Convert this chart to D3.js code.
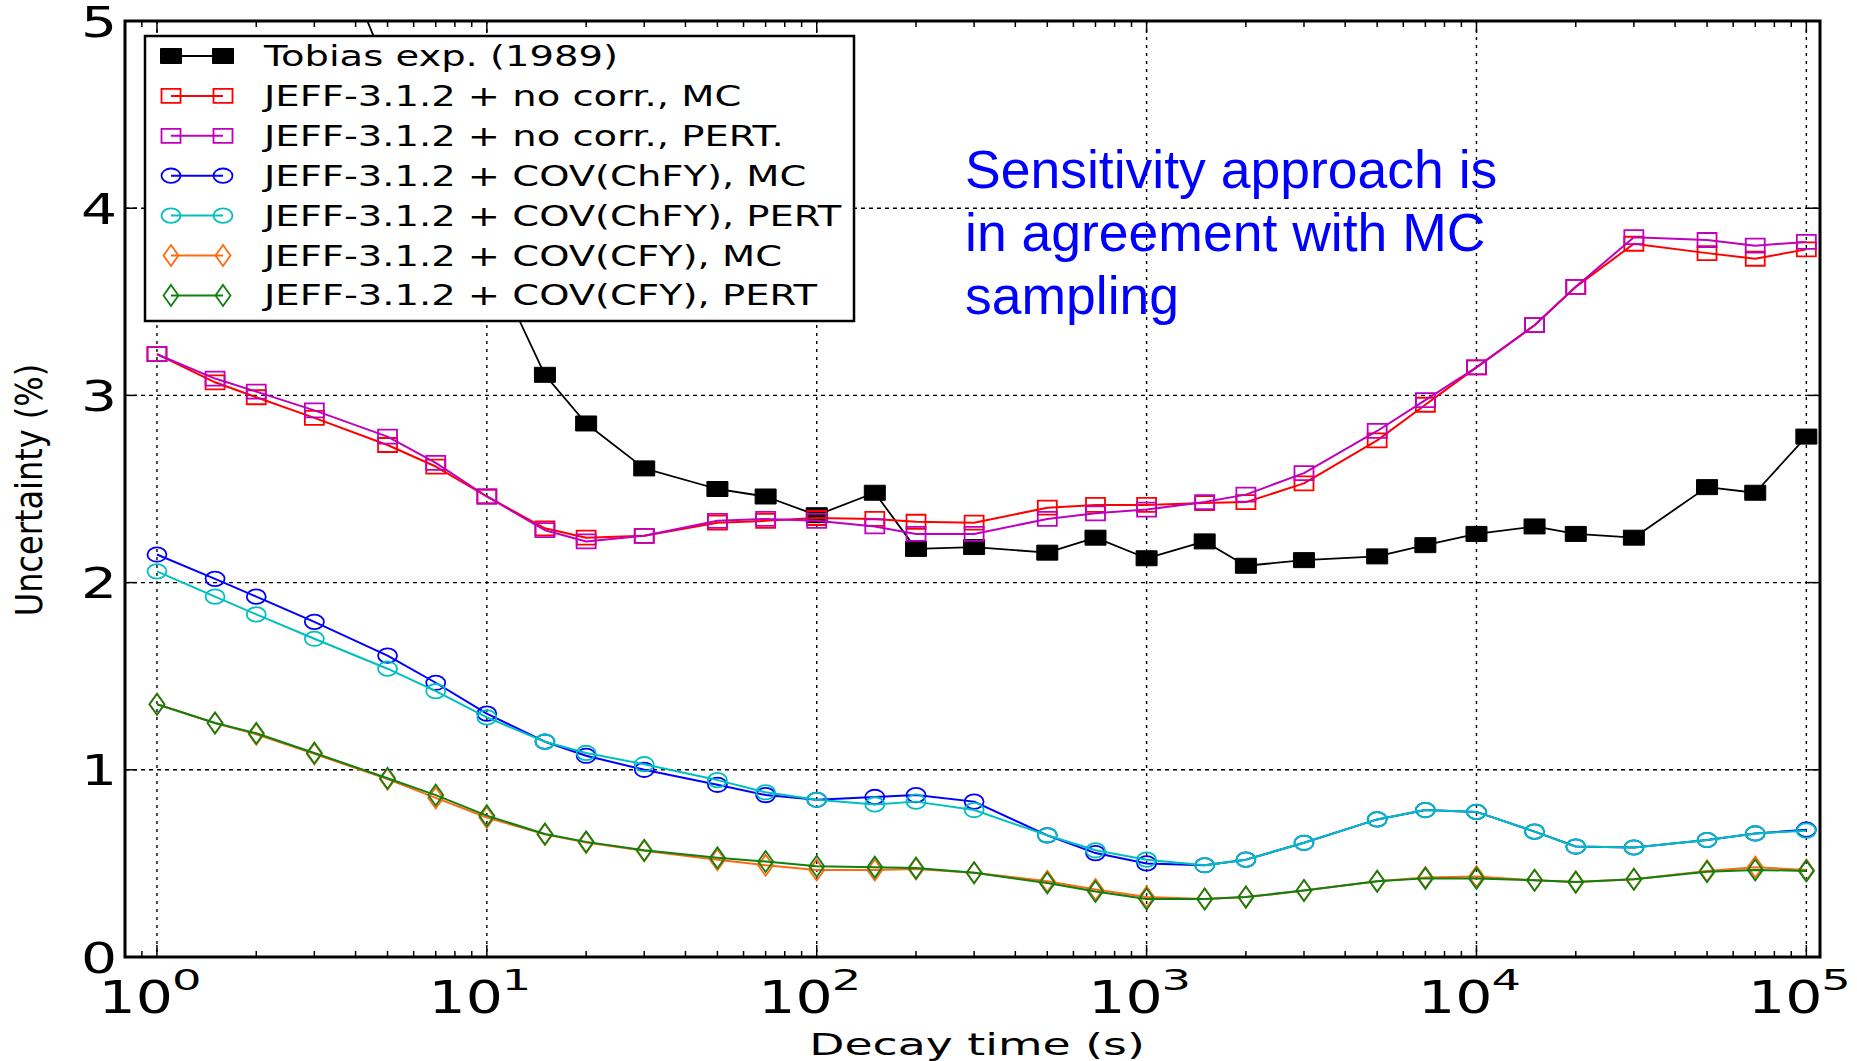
<!DOCTYPE html>
<html>
<head>
<meta charset="utf-8">
<script src="https://cdn.jsdelivr.net/npm/d3@7/dist/d3.min.js"></script>
<style>
  html, body { margin: 0; padding: 0; background: #fff; }
  svg { display: block; }
</style>
</head>
<body>
<svg id="chart" width="1857" height="1061"></svg>
<script>
// decay times (s) shared by every series
var decayTimes = [1, 1.5, 2, 3, 5, 7, 10, 15, 20, 30, 50, 70, 100, 150, 200, 300, 500, 700,
    1000, 1500, 2000, 3000, 5000, 7000, 10000, 15000, 20000, 30000, 50000, 70000, 100000];

// uncertainty (%), null where a series has no point
var tobiasExp = [null, null, null, 5.68, 4.74, 4.3, 3.77, 3.11, 2.85, 2.61, 2.50, 2.46, 2.36,
    2.48, 2.18, 2.19, 2.16, 2.24, 2.13, 2.22, 2.09, 2.12, 2.14, 2.20, 2.26, 2.30, 2.26, 2.24,
    2.51, 2.48, 2.78];
var noCorrMC = [3.22, 3.07, 2.99, 2.88, 2.735, 2.62, 2.46, 2.29, 2.24, 2.25, 2.32, 2.33, 2.345,
    2.34, 2.325, 2.32, 2.40, 2.415, 2.415, 2.425, 2.43, 2.53, 2.76, 2.95, 3.15, 3.375, 3.58,
    3.81, 3.76, 3.73, 3.78];
var noCorrPert = [3.22, 3.09, 3.02, 2.92, 2.78, 2.64, 2.46, 2.28, 2.22, 2.25, 2.33, 2.34, 2.33,
    2.30, 2.26, 2.26, 2.34, 2.37, 2.39, 2.43, 2.47, 2.585, 2.81, 2.975, 3.15, 3.375, 3.58,
    3.845, 3.83, 3.80, 3.82];
var chfyMC = [2.15, 2.02, 1.925, 1.79, 1.61, 1.465, 1.30, 1.15, 1.075, 1.00, 0.92, 0.865, 0.84,
    0.855, 0.865, 0.83, 0.65, 0.555, 0.50, 0.49, 0.52, 0.61, 0.735, 0.785, 0.775, 0.67, 0.59,
    0.585, 0.625, 0.66, 0.68];
var chfyPert = [2.06, 1.925, 1.83, 1.70, 1.54, 1.42, 1.28, 1.15, 1.09, 1.03, 0.945, 0.88, 0.84,
    0.815, 0.83, 0.785, 0.65, 0.57, 0.52, 0.49, 0.52, 0.61, 0.735, 0.785, 0.775, 0.67, 0.59,
    0.585, 0.625, 0.66, 0.675];
var cfyMC = [1.35, 1.25, 1.19, 1.085, 0.95, 0.85, 0.745, 0.655, 0.612, 0.567, 0.52, 0.49, 0.465,
    0.465, 0.47, 0.45, 0.405, 0.36, 0.32, 0.31, 0.32, 0.355, 0.405, 0.425, 0.43, 0.41, 0.40,
    0.415, 0.46, 0.48, 0.465];
var cfyPert = [1.35, 1.25, 1.195, 1.09, 0.955, 0.865, 0.755, 0.657, 0.615, 0.57, 0.53, 0.51, 0.485,
    0.48, 0.475, 0.45, 0.395, 0.35, 0.31, 0.31, 0.32, 0.355, 0.405, 0.42, 0.42, 0.41, 0.40,
    0.415, 0.455, 0.465, 0.46];

var seriesLabels = [
    'Tobias exp. (1989)',
    'JEFF-3.1.2 + no corr., MC',
    'JEFF-3.1.2 + no corr., PERT.',
    'JEFF-3.1.2 + COV(ChFY), MC',
    'JEFF-3.1.2 + COV(ChFY), PERT',
    'JEFF-3.1.2 + COV(CFY), MC',
    'JEFF-3.1.2 + COV(CFY), PERT'
];
var yTickValues = [0, 1, 2, 3, 4, 5];
var xTickExponents = [0, 1, 2, 3, 4, 5];
var xAxisLabel = 'Decay time (s)';
var yAxisLabel = 'Uncertainty (%)';
var noteLines = ['Sensitivity approach is', 'in agreement with MC', 'sampling'];

var plot = { left: 125, right: 1820, top: 21, bottom: 957 };
var mplFont = '"DejaVu Sans", sans-serif';

var series = [
    { values: tobiasExp, color: '#000000', marker: 'filled', width: 1.8 },
    { values: noCorrMC, color: '#ff0000', marker: 'square', width: 2 },
    { values: noCorrPert, color: '#bf00bf', marker: 'square', width: 2 },
    { values: chfyMC, color: '#0000ff', marker: 'circle', width: 2 },
    { values: chfyPert, color: '#00bfbf', marker: 'circle', width: 2 },
    { values: cfyMC, color: '#ff6a10', marker: 'diamond', width: 2 },
    { values: cfyPert, color: '#108010', marker: 'diamond', width: 2 }
].map(function(s, i) {
    s.label = seriesLabels[i];
    s.points = decayTimes.map(function(t, j) {
        return { t: t, v: s.values[j] };
    });
    return s;
});

var x = d3.scaleLog().domain([0.8, 1.1e5]).range([plot.left, plot.right]);
var y = d3.scaleLinear().domain([0, 5]).range([plot.bottom, plot.top]);

var svg = d3.select('#chart');
svg.append('rect').attr('width', 1857).attr('height', 1061).attr('fill', '#fff');

// the source figure is stretched sideways, so text gets a horizontal scale
function stretchedText(parent, str, px, py, size, sx, anchor) {
    return parent.append('text')
        .attr('transform', 'translate(' + px + ',' + py + ') scale(' + sx + ',1)')
        .attr('text-anchor', anchor || 'start')
        .attr('font-family', mplFont)
        .attr('font-size', size)
        .attr('fill', '#000')
        .text(str);
}

function markerPath(type) {
    if (type === 'circle') {
        return 'M-9.5,0a9.5,7.2 0 1,0 19,0a9.5,7.2 0 1,0 -19,0Z';
    }
    if (type === 'diamond') {
        return 'M0,-10.5L7.5,0L0,10.5L-7.5,0Z';
    }
    if (type === 'filled') {
        return 'M-10.5,-7.5h21v15h-21Z';
    }
    return 'M-9.5,-7h19v14h-19Z';
}

function drawMarkers(sel, s) {
    sel.attr('d', markerPath(s.marker))
        .attr('fill', s.marker === 'filled' ? s.color : 'none')
        .attr('stroke', s.color)
        .attr('stroke-width', s.marker === 'filled' ? 1 : 1.8);
}

// grid
var grid = svg.append('g')
    .attr('stroke', '#000')
    .attr('stroke-width', 1.4);
grid.selectAll('line.gy')
    .data(yTickValues.slice(1, -1))
    .enter().append('line')
    .attr('x1', plot.left).attr('x2', plot.right)
    .attr('y1', y).attr('y2', y)
    .attr('stroke-dasharray', '4,4');
grid.selectAll('line.gx')
    .data(xTickExponents)
    .enter().append('line')
    .attr('x1', function(e) { return x(Math.pow(10, e)); })
    .attr('x2', function(e) { return x(Math.pow(10, e)); })
    .attr('y1', plot.top).attr('y2', plot.bottom)
    .attr('stroke-dasharray', '3,5');

// data
svg.append('clipPath').attr('id', 'plotClip')
    .append('rect')
    .attr('x', plot.left).attr('y', plot.top)
    .attr('width', plot.right - plot.left)
    .attr('height', plot.bottom - plot.top);

var dataLayer = svg.append('g').attr('clip-path', 'url(#plotClip)');
var line = d3.line()
    .defined(function(d) { return d.v != null; })
    .x(function(d) { return x(d.t); })
    .y(function(d) { return y(d.v); });

series.forEach(function(s) {
    var g = dataLayer.append('g');
    g.append('path')
        .attr('d', line(s.points))
        .attr('fill', 'none')
        .attr('stroke', s.color)
        .attr('stroke-width', s.width)
        .attr('stroke-linejoin', 'round');
    g.selectAll('path.mk')
        .data(s.points.filter(function(d) { return d.v != null; }))
        .enter().append('path')
        .attr('class', 'mk')
        .attr('transform', function(d) { return 'translate(' + x(d.t) + ',' + y(d.v) + ')'; })
        .call(drawMarkers, s);
});

// ticks
var ticks = svg.append('g').attr('stroke', '#000').attr('stroke-width', 1.5);
yTickValues.forEach(function(v) {
    ticks.append('line').attr('x1', plot.left).attr('x2', plot.left + 12).attr('y1', y(v)).attr('y2', y(v));
    ticks.append('line').attr('x1', plot.right).attr('x2', plot.right - 12).attr('y1', y(v)).attr('y2', y(v));
});
var minorTicks = [];
for (var e = -1; e <= 5; e++) {
    for (var m = 2; m <= 9; m++) {
        var t = m * Math.pow(10, e);
        if (t > x.domain()[0] && t < x.domain()[1]) minorTicks.push(t);
    }
}
xTickExponents.forEach(function(ex) {
    var px = x(Math.pow(10, ex));
    ticks.append('line').attr('x1', px).attr('x2', px).attr('y1', plot.bottom).attr('y2', plot.bottom - 12);
    ticks.append('line').attr('x1', px).attr('x2', px).attr('y1', plot.top).attr('y2', plot.top + 12);
});
minorTicks.forEach(function(t) {
    var px = x(t);
    ticks.append('line').attr('x1', px).attr('x2', px).attr('y1', plot.bottom).attr('y2', plot.bottom - 6);
    ticks.append('line').attr('x1', px).attr('x2', px).attr('y1', plot.top).attr('y2', plot.top + 6);
});

// frame
svg.append('rect')
    .attr('x', plot.left).attr('y', plot.top)
    .attr('width', plot.right - plot.left)
    .attr('height', plot.bottom - plot.top)
    .attr('fill', 'none')
    .attr('stroke', '#000')
    .attr('stroke-width', 3);

// tick labels
yTickValues.forEach(function(v) {
    stretchedText(svg, String(v), 117, y(v) + 15.5, 42, 1.35, 'end');
});
xTickExponents.forEach(function(ex) {
    var px = x(Math.pow(10, ex));
    stretchedText(svg, '10', px + 16, 1013, 45, 1.3, 'end');
    stretchedText(svg, String(ex), px + 15, 990, 29, 1.6, 'start');
});

// axis labels
stretchedText(svg, xAxisLabel, 977, 1055, 30.5, 1.5, 'middle');
svg.append('text')
    .attr('transform', 'translate(42,490) rotate(-90) scale(1,1.15)')
    .attr('text-anchor', 'middle')
    .attr('font-family', mplFont)
    .attr('font-size', 32)
    .attr('fill', '#000')
    .text(yAxisLabel);

// legend
var legend = svg.append('g');
legend.append('rect')
    .attr('x', 145).attr('y', 36)
    .attr('width', 709).attr('height', 285)
    .attr('fill', '#fff')
    .attr('stroke', '#000')
    .attr('stroke-width', 2.5);
series.forEach(function(s, i) {
    var base = 66 + i * 39.9;
    var cy = base - 10;
    var row = legend.append('g');
    row.append('line')
        .attr('x1', 171).attr('x2', 223)
        .attr('y1', cy).attr('y2', cy)
        .attr('stroke', s.color)
        .attr('stroke-width', s.width);
    row.selectAll('path')
        .data([171, 223])
        .enter().append('path')
        .attr('transform', function(px) { return 'translate(' + px + ',' + cy + ')'; })
        .call(drawMarkers, s);
    stretchedText(row, s.label, 264, base, 28.5, 1.35, 'start');
});

// annotation
var note = svg.append('text')
    .attr('font-family', '"Liberation Sans", Arial, sans-serif')
    .attr('font-size', 53.5)
    .attr('fill', '#0000ff');
note.selectAll('tspan')
    .data(noteLines)
    .enter().append('tspan')
    .attr('x', 965)
    .attr('y', function(d, i) { return 188 + i * 63; })
    .text(function(d) { return d; });
</script>
</body>
</html>
